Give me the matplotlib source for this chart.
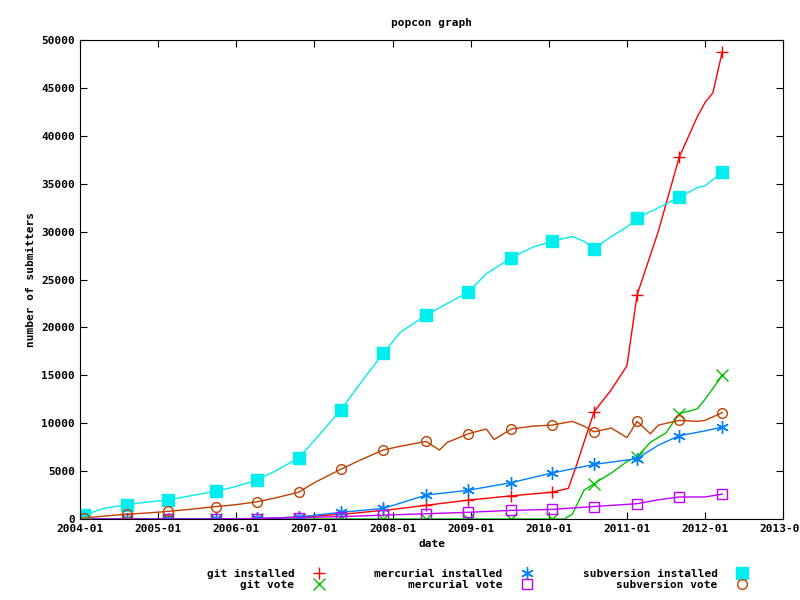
import matplotlib
matplotlib.use("Agg")
import matplotlib.pyplot as plt
import numpy as np

# fractional years
svn_inst_x = [2004.0,2004.05,2004.3,2004.6,2004.9,2005.13,2005.4,2005.74,2006.0,2006.27,2006.5,2006.8,2007.0,2007.34,2007.6,2007.88,2008.1,2008.43,2008.7,2008.97,2009.2,2009.52,2009.8,2010.04,2010.3,2010.45,2010.58,2010.8,2011.0,2011.13,2011.4,2011.67,2011.9,2012.0,2012.22]
svn_inst_y = [200,400,1100,1500,1800,2000,2400,2900,3400,4100,5000,6400,8200,11400,14300,17300,19500,21300,22500,23700,25600,27300,28400,29000,29500,29000,28200,29500,30500,31400,32500,33600,34600,34800,36200]

svn_vote_x = [2004.0,2004.05,2004.3,2004.6,2004.9,2005.13,2005.4,2005.74,2006.0,2006.27,2006.5,2006.8,2007.0,2007.34,2007.6,2007.88,2008.1,2008.43,2008.6,2008.7,2008.97,2009.2,2009.3,2009.52,2009.8,2010.04,2010.3,2010.45,2010.58,2010.8,2011.0,2011.13,2011.3,2011.4,2011.67,2011.9,2012.0,2012.22]
svn_vote_y = [100,100,300,500,650,800,1000,1300,1500,1800,2200,2800,3800,5200,6200,7200,7600,8100,7200,8000,8900,9400,8300,9400,9700,9800,10200,9700,9100,9500,8500,10200,8900,9800,10300,10200,10300,11100]

git_inst_x = [2004.0,2005.0,2006.0,2006.5,2007.0,2007.5,2008.0,2008.5,2009.0,2009.5,2010.04,2010.25,2010.35,2010.45,2010.58,2010.8,2011.0,2011.13,2011.4,2011.67,2011.9,2012.0,2012.1,2012.22]
git_inst_y = [0,0,0,100,300,600,1000,1500,2000,2400,2800,3200,5500,8000,11200,13500,16000,23400,30000,37800,42000,43500,44500,48800]

git_vote_x = [2004.0,2005.0,2006.0,2007.0,2008.0,2009.0,2010.0,2010.2,2010.3,2010.45,2010.58,2010.8,2011.0,2011.13,2011.3,2011.5,2011.67,2011.9,2012.0,2012.22]
git_vote_y = [0,0,0,0,0,0,0,0,500,3000,3700,4800,6000,6500,8000,9000,11000,11500,12500,15000]

merc_inst_x = [2004.0,2005.0,2006.0,2006.5,2006.8,2007.34,2007.88,2008.43,2008.97,2009.52,2010.04,2010.58,2011.13,2011.4,2011.67,2012.0,2012.22]
merc_inst_y = [0,0,0,100,200,700,1100,2500,3000,3800,4800,5700,6300,7700,8700,9200,9600]

merc_vote_x = [2004.0,2005.0,2005.74,2006.27,2006.8,2007.34,2007.88,2008.43,2008.97,2009.52,2010.04,2010.58,2011.13,2011.4,2011.67,2012.0,2012.22]
merc_vote_y = [0,0,0,50,150,250,400,550,700,900,1000,1300,1600,2000,2300,2300,2600]

marker_x = [2004.05,2004.6,2005.13,2005.74,2006.27,2006.8,2007.34,2007.88,2008.43,2008.97,2009.52,2010.04,2010.58,2011.13,2011.67,2012.22]

tick_years = list(range(2004, 2014))
tick_labels = [f"{y}-01" for y in tick_years]

plt.rcParams["font.family"] = "DejaVu Sans Mono"
plt.rcParams["font.weight"] = "bold"
plt.rcParams["font.size"] = 8

fig = plt.figure(figsize=(8, 6), dpi=100)
ax = fig.add_axes([0.1, 0.135, 0.879, 0.798])

def series(xs, ys, color, marker, label, mfc="none", ms=7):
    ax.plot(xs, ys, color=color, lw=1)
    mx = [m for m in marker_x if xs[0] <= m <= xs[-1]]
    my = np.interp(mx, xs, ys)
    ax.plot(mx, my, ls="none", marker=marker, color=color, mfc=mfc, ms=ms, mew=1)
    return ax.plot([], [], ls="none", marker=marker, color=color, mfc=mfc, ms=ms, mew=1, label=label)[0]

h = []
h.append(series(git_inst_x, git_inst_y, "#ff0000", "+", "git installed", ms=9))
h.append(series(git_vote_x, git_vote_y, "#00c000", "x", "git vote", ms=8))
h.append(series(merc_inst_x, merc_inst_y, "#0080ff", (6, 2, 0), "mercurial installed", ms=9))
h.append(series(merc_vote_x, merc_vote_y, "#c000ff", "s", "mercurial vote", ms=7))
h.append(series(svn_inst_x, svn_inst_y, "#00eeee", "s", "subversion installed", mfc="#00eeee", ms=8))
h.append(series(svn_vote_x, svn_vote_y, "#c04000", "o", "subversion vote", ms=7))

ax.set_xlim(2004, 2013)
ax.set_ylim(0, 50000)
ax.set_xticks(tick_years)
ax.set_xticklabels(tick_labels)
ax.set_yticks(range(0, 50001, 5000))
ax.tick_params(direction="in", top=True, right=True, length=5)
ax.set_xlabel("date", fontweight="bold")
ax.set_ylabel("number of submitters", fontweight="bold")
ax.set_title("popcon graph", fontweight="bold", fontsize=8, pad=10)
fig.legend(handles=h, loc="lower center", ncol=3, markerfirst=False, frameon=False,
           bbox_to_anchor=(0.6, 0.0), columnspacing=4, handletextpad=1.2, labelspacing=0.1)
fig.savefig("out.png", dpi=100)
